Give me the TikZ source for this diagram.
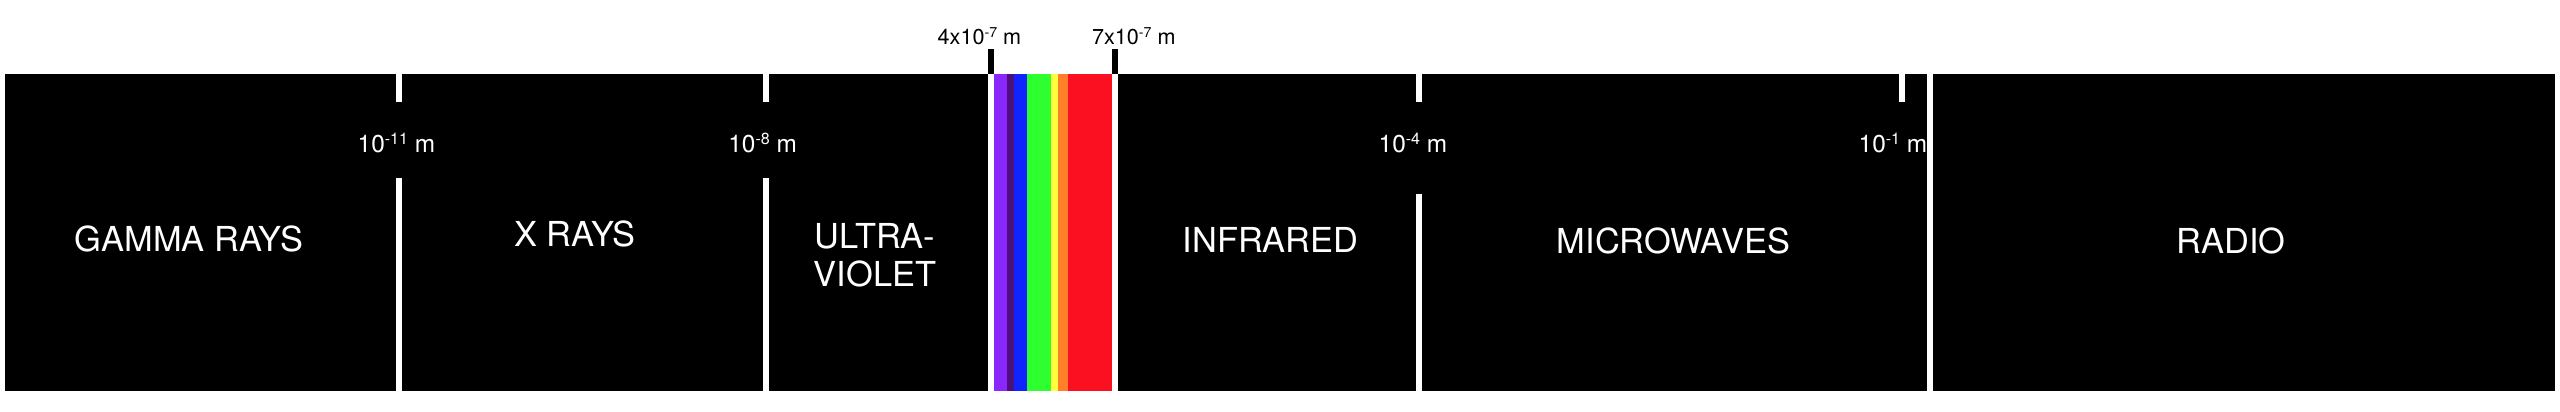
\documentclass[tikz,border=0pt]{standalone}
\usepackage{graphicx}
\usepackage{fontspec}
\setmainfont{TeX Gyre Heros}
\definecolor{cviolet}{RGB}{138,40,252}
\definecolor{cindigo}{RGB}{75,16,125}
\definecolor{cblue}{RGB}{16,36,255}
\definecolor{cgreen}{RGB}{46,255,46}
\definecolor{cyellow}{RGB}{255,255,60}
\definecolor{corange}{RGB}{255,128,40}
\definecolor{cred}{RGB}{250,16,32}
\newcommand\expo[1]{\raisebox{0.3em}{\scalebox{0.66}{#1}}}
\begin{document}
\begin{tikzpicture}[x=0.5pt,y=-0.5pt,
  band/.style={fill=black},
  gapline/.style={fill=white},
  bandlabel/.style={text=white,font=\fontsize{17.2}{19.2}\selectfont,inner sep=0pt,anchor=base},
  ticklabel/.style={text=white,font=\fontsize{12.2}{14}\selectfont,inner sep=0pt,anchor=base west},
  toplabel/.style={text=black,font=\fontsize{10.8}{13}\selectfont,inner sep=0pt,anchor=base west}]
\useasboundingbox (0,0) rectangle (2560,412);
% black bands
\fill[band] (5,74) rectangle (988,391);
\fill[band] (1118,74) rectangle (2555,391);
% visible spectrum
\fill[cviolet] (994,74) rectangle (1007,391);
\fill[cindigo] (1007,74) rectangle (1013.7,391);
\fill[cblue] (1013.7,74) rectangle (1027.3,391);
\fill[cgreen] (1027.3,74) rectangle (1051.3,391);
\fill[cyellow] (1051.3,74) rectangle (1057.7,391);
\fill[corange] (1057.7,74) rectangle (1068.3,391);
\fill[cred] (1068.3,74) rectangle (1112,391);
% black ticks above the spectrum
\fill[band] (988,49) rectangle (994,74);
\fill[band] (1112,49) rectangle (1118,74);
% white dividers
\fill[gapline] (396,74) rectangle (402,101.7);
\fill[gapline] (396,177.7) rectangle (402,391);
\fill[gapline] (763,74) rectangle (769,101.7);
\fill[gapline] (763,177.7) rectangle (769,391);
\fill[gapline] (1416,74) rectangle (1422,101.7);
\fill[gapline] (1416,194) rectangle (1422,391);
\fill[gapline] (1899,74) rectangle (1905,101.7);
% band names
\node[bandlabel] (gamma) at (189,251.7) {GAMMA RAYS};
\node[bandlabel] (xray) at (575,246) {X RAYS};
\node[bandlabel,align=center] (uv) at (875,286.7) {ULTRA-\\VIOLET};
\node[bandlabel] (ir) at (1270.5,252.7) {INFRARED};
\node[bandlabel] (micro) at (1673.5,253) {MICROWAVES};
\node[bandlabel] (radio) at (2231,253) {RADIO};
% wavelength labels
\node[ticklabel] (t11) at (357.3,152.3) {10\expo{-11} m};
\node[ticklabel] (t8) at (728,152.3) {10\expo{-8} m};
\node[ticklabel] (t4) at (1378.3,152.3) {10\expo{-4} m};
\node[ticklabel] (t1) at (1858.3,152.3) {10\expo{-1} m};
\node[toplabel] (t4e7) at (937.3,44) {4x10\expo{-7} m};
\node[toplabel] (t7e7) at (1091.7,44) {7x10\expo{-7} m};
% divider between microwaves and radio (drawn over the label)
\fill[gapline] (1927,74) rectangle (1933,391);
\end{tikzpicture}
\end{document}
